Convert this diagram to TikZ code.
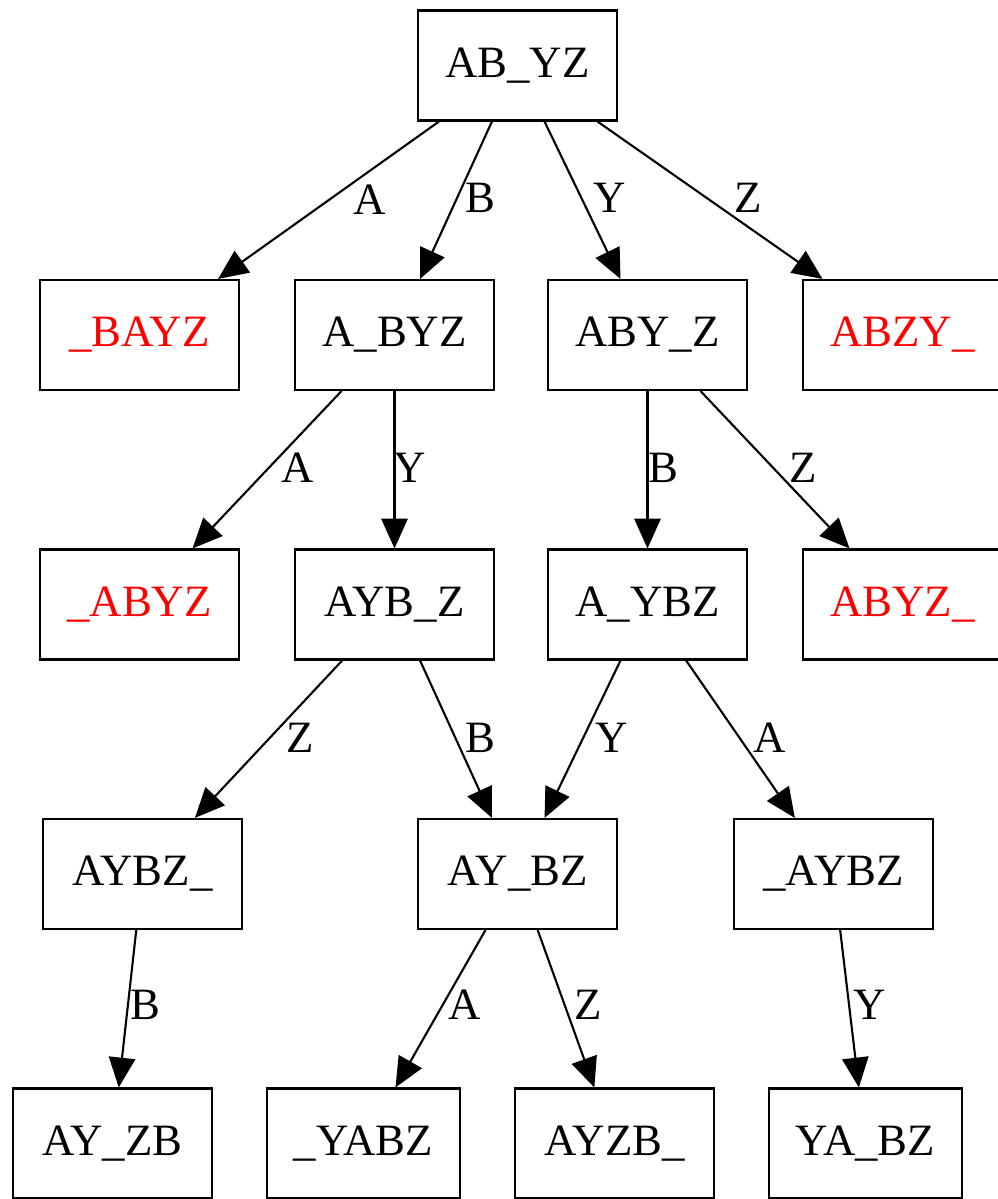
\documentclass[tikz,border=0pt]{standalone}
\usepackage{fontspec}
\setmainfont{Liberation Serif}
\usetikzlibrary{arrows.meta}
\tikzset{
  st/.style={draw=black, line width=1.2pt, rectangle, minimum width=3.98cm, minimum height=2.2cm, inner sep=0pt, font=\fontsize{25.5}{25.5}\selectfont, fill=white},
  narrow/.style={minimum width=3.86cm},
  bad/.style={text=red},
  edge/.style={draw=black, line width=1.2pt, -{Triangle[length=17pt, width=15pt]}},
  lbl/.style={font=\fontsize{25.5}{25.5}\selectfont, inner sep=0pt}
}
\begin{document}
\begin{tikzpicture}[x=0.02cm, y=-0.02cm]
\useasboundingbox (0,0) rectangle (997,1199);
\node[st] (n0) at (517.5,65.5) {AB\_YZ};
\node[st,bad] (n1) at (139.5,335) {\_BAYZ};
\node[st] (n2) at (394.5,335) {A\_BYZ};
\node[st] (n3) at (647.5,335) {ABY\_Z};
\node[st,bad] (n4) at (902.5,335) {ABZY\_};
\node[st,bad] (n5) at (139.5,604.5) {\_ABYZ};
\node[st] (n6) at (394.5,604.5) {AYB\_Z};
\node[st] (n7) at (647.5,604.5) {A\_YBZ};
\node[st,bad] (n8) at (902.5,604.5) {ABYZ\_};
\node[st] (n9) at (142.5,874) {AYBZ\_};
\node[st] (n10) at (517.5,874) {AY\_BZ};
\node[st] (n11) at (833.5,874) {\_AYBZ};
\node[st] (n12) at (112.5,1143.5) {AY\_ZB};
\node[st,narrow] (n13) at (363.5,1143.5) {\_YABZ};
\node[st] (n14) at (614.5,1143.5) {AYZB\_};
\node[st,narrow] (n15) at (865.5,1143.5) {YA\_BZ};

\draw[edge] (n0) -- (n1) node[lbl] at (370,200) {A};
\draw[edge] (n0) -- (n2) node[lbl] at (480,198) {B};
\draw[edge] (n0) -- (n3) node[lbl] at (610,198) {Y};
\draw[edge] (n0) -- (n4) node[lbl] at (748,198) {Z};
\draw[edge] (n2) -- (n5) node[lbl] at (298,468) {A};
\draw[edge] (n2) -- (n6) node[lbl] at (410,468) {Y};
\draw[edge] (n3) -- (n7) node[lbl] at (663,468) {B};
\draw[edge] (n3) -- (n8) node[lbl] at (803,468) {Z};
\draw[edge] (n6) -- (n9) node[lbl] at (300,738) {Z};
\draw[edge] (n6) -- (n10) node[lbl] at (480,738) {B};
\draw[edge] (n7) -- (n10) node[lbl] at (612,738) {Y};
\draw[edge] (n7) -- (n11) node[lbl] at (770,738) {A};
\draw[edge] (n9) -- (n12) node[lbl] at (145,1005) {B};
\draw[edge] (n10) -- (n13) node[lbl] at (465,1005) {A};
\draw[edge] (n10) -- (n14) node[lbl] at (588,1005) {Z};
\draw[edge] (n11) -- (n15) node[lbl] at (870,1005) {Y};
\end{tikzpicture}
\end{document}
